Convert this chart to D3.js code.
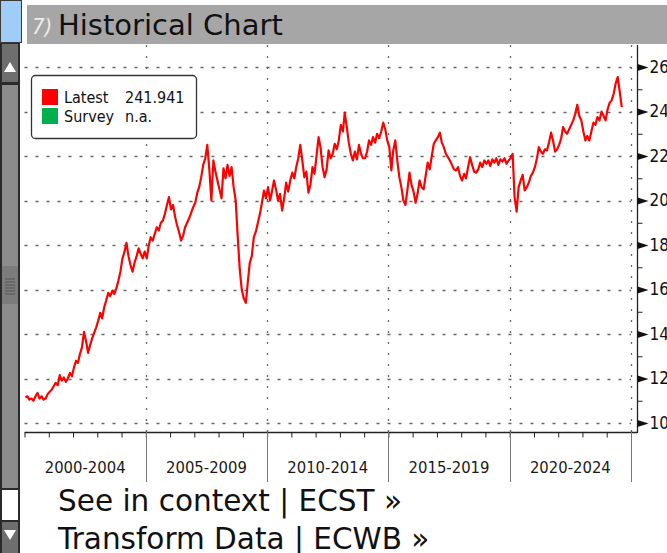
<!DOCTYPE html>
<html>
<head>
<meta charset="utf-8">
<script src="https://cdn.jsdelivr.net/npm/d3@7"></script>
<style>
body { margin: 0; background: #fff; overflow: hidden; }
svg { display: block; }
text { font-family: "DejaVu Sans Condensed", "DejaVu Sans", sans-serif; }
</style>
</head>
<body>
<div id="vis"></div>
<script>
const FRAME_WIDTH = 667;
const FRAME_HEIGHT = 553;

// monthly values, Jan 2000 .. Aug 2024
const values = [
  111.5, 112, 110.5, 111, 110, 112, 113.5, 111, 112, 110.5, 111, 113,      // 2000
  114, 115, 116.5, 118, 117, 121.5, 119, 120.5, 118.5, 120, 122.5, 121,    // 2001
  125, 128, 127, 131, 134, 141, 137, 131.5, 135, 138, 140.5, 143,          // 2002
  146, 149.5, 147, 152, 155, 158.5, 157, 159.5, 158, 160.5, 164, 168,      // 2003
  174, 177, 181, 175, 171, 168, 172, 175, 178.5, 176, 174, 177,            // 2004
  174, 180, 183.5, 182, 185, 188, 186.5, 190, 191, 194, 198, 201.5,        // 2005
  196, 198, 193, 189, 186, 182, 184, 188, 190, 192, 194.5, 197,            // 2006
  199, 203.5, 206, 210.5, 216, 219, 225, 214, 200, 218, 213, 209,          // 2007
  205, 201, 214.5, 210, 216, 211, 215, 206, 200, 184, 169, 160,            // 2008
  156, 154, 163, 172, 175, 183.5, 186, 190, 194, 199, 204.5, 201,          // 2009
  206, 200, 204, 209, 205, 200, 203, 195.5, 201, 208, 204, 209,            // 2010
  212.5, 210, 215, 219, 225, 218, 210.5, 213, 203.5, 207, 215, 212,        // 2011
  220, 228.5, 224, 215, 210.5, 214, 222.5, 219, 221, 225.5, 223, 227,      // 2012
  234, 231, 239.5, 233, 226, 221, 218, 222, 218.5, 225, 221, 219,          // 2013
  219, 222, 227, 225, 228.5, 226, 230, 228, 231, 235, 232, 227,            // 2014
  224, 213.5, 222.5, 227, 218, 210.5, 206, 200, 198, 205, 212.5, 207,      // 2015
  204, 199, 203, 209, 206, 205, 211, 217, 214, 220, 225.5, 227,            // 2016
  228.5, 230.5, 226, 224, 221, 219.5, 218, 216, 214, 213.5, 215, 211,      // 2017
  209, 212, 210, 215, 219.5, 216, 213, 212.5, 214, 217, 215, 218,          // 2018
  216.5, 218, 215.5, 218.5, 217, 219, 216, 218.5, 217.5, 219, 216.5, 218,  // 2019
  219, 221, 201.5, 195, 206, 209, 211.5, 204.5, 206, 208, 211, 212.5,      // 2020
  215, 219, 224, 222, 221, 223, 222.5, 226, 230.5, 227, 222, 223,          // 2021
  225, 228, 233, 231, 230, 232, 234, 236, 239, 243, 238, 236,              // 2022
  231, 227, 229, 227, 231, 235, 234, 237.5, 236, 240, 238, 236,            // 2023
  241, 244, 245, 248, 252.5, 255.5, 249, 241.941                           // 2024
];

const periods = ["2000-2004", "2005-2009", "2010-2014", "2015-2019", "2020-2024"];
const periodYears = [2000, 2005, 2010, 2015, 2020, 2025];
const yTicks = [100, 120, 140, 160, 180, 200, 220, 240, 260];
const yMinor = [110, 130, 150, 170, 190, 210, 230, 250];

const legendNames = ["Latest", "Survey"];
const legendValues = ["241.941", "n.a."];
const legendColors = ["#ff0000", "#00b04f"];

const links = ["See in context | ECST \u00bb", "Transform Data | ECWB \u00bb"];

const PLOT = { left: 24.5, right: 631, top: 45, bottom: 432, axisX: 637 };

const data = values.map((v, i) => ({ date: new Date(2000, i, 15), value: v }));

const svg = d3.select("#vis")
  .append("svg")
  .attr("width", FRAME_WIDTH)
  .attr("height", FRAME_HEIGHT);

// scales
const X_SCALE = d3.scaleTime()
  .domain([new Date(2000, 0, 1), new Date(2025, 0, 1)])
  .range([PLOT.left, PLOT.right]);

const Y_SCALE = d3.scaleLinear()
  .domain([100, 260])
  .range([423, 67]);

// header
svg.append("rect").attr("x", 0.5).attr("y", 0.5).attr("width", 21).attr("height", 42)
  .attr("fill", "#9fcdf8").attr("stroke", "#3a3a3a");
svg.append("rect").attr("x", 27).attr("y", 5).attr("width", FRAME_WIDTH - 27).attr("height", 39)
  .attr("fill", "#a6a6a6");
svg.append("text").attr("x", 32).attr("y", 34)
  .attr("font-size", 22).attr("font-style", "italic").attr("fill", "#ececec")
  .text("7)");
svg.append("text").attr("x", 58).attr("y", 35)
  .attr("font-size", 29).attr("fill", "#111")
  .style("font-family", "'DejaVu Sans', sans-serif")
  .text("Historical Chart");

// left scrollbar
const sb = svg.append("g");
sb.append("rect").attr("x", 0).attr("y", 43).attr("width", 20).attr("height", FRAME_HEIGHT - 43).attr("fill", "#2a2a2a");
sb.append("rect").attr("x", 2).attr("y", 44).attr("width", 16).attr("height", 38).attr("fill", "#6e6e6e");
sb.append("path").attr("d", "M4,72 L10,62 L16,72 Z").attr("fill", "#fff");
sb.append("rect").attr("x", 2).attr("y", 85).attr("width", 16).attr("height", 403).attr("fill", "#8c8c8c");
sb.append("rect").attr("x", 2).attr("y", 266).attr("width", 16).attr("height", 38).attr("fill", "#7c7c7c");
[279, 282, 285, 288, 291, 294].forEach(yy => {
  sb.append("line").attr("x1", 5).attr("x2", 15).attr("y1", yy).attr("y2", yy).attr("stroke", "#555");
});
sb.append("rect").attr("x", 2).attr("y", 490).attr("width", 16).attr("height", 30).attr("fill", "#fff");
sb.append("rect").attr("x", 2).attr("y", 522).attr("width", 16).attr("height", 31).attr("fill", "#6e6e6e");
sb.append("path").attr("d", "M4,530 L10,540 L16,530 Z").attr("fill", "#fff");

// gridlines
svg.append("g")
  .selectAll("line")
  .data(yTicks)
  .enter()
  .append("line")
  .attr("x1", PLOT.left)
  .attr("x2", PLOT.right)
  .attr("y1", d => Math.round(Y_SCALE(d)) + 0.5)
  .attr("y2", d => Math.round(Y_SCALE(d)) + 0.5)
  .attr("stroke", "#666")
  .attr("stroke-width", 1.3)
  .attr("stroke-dasharray", "3,8");

svg.append("g")
  .selectAll("line")
  .data(periodYears.slice(1))
  .enter()
  .append("line")
  .attr("x1", d => Math.round(X_SCALE(new Date(d, 0, 1))) + 0.5)
  .attr("x2", d => Math.round(X_SCALE(new Date(d, 0, 1))) + 0.5)
  .attr("y1", PLOT.top)
  .attr("y2", PLOT.bottom)
  .attr("stroke", "#666")
  .attr("stroke-width", 1.3)
  .attr("stroke-dasharray", "2,9");

// the series
const line = d3.line()
  .x(d => X_SCALE(d.date))
  .y(d => Y_SCALE(d.value));

svg.append("path")
  .datum(data)
  .attr("d", line)
  .attr("fill", "none")
  .attr("stroke", "#ff0000")
  .attr("stroke-width", 2.2)
  .attr("stroke-linejoin", "round");

// bottom axis
svg.append("line")
  .attr("x1", PLOT.left).attr("x2", PLOT.axisX)
  .attr("y1", PLOT.bottom + 0.5).attr("y2", PLOT.bottom + 0.5)
  .attr("stroke", "#222").attr("stroke-width", 1.3);

const xAxis = svg.append("g")
  .attr("transform", "translate(0," + (PLOT.bottom + 0.5) + ")")
  .call(d3.axisBottom(X_SCALE).ticks(d3.timeYear.every(1)).tickSize(5).tickFormat(""));
xAxis.select(".domain").remove();
xAxis.selectAll(".tick line").attr("stroke", "#222");

svg.append("g")
  .selectAll("line")
  .data(periodYears.slice(1))
  .enter()
  .append("line")
  .attr("x1", d => Math.round(X_SCALE(new Date(d, 0, 1))) + 0.5)
  .attr("x2", d => Math.round(X_SCALE(new Date(d, 0, 1))) + 0.5)
  .attr("y1", PLOT.bottom)
  .attr("y2", 482)
  .attr("stroke", "#777");

svg.append("g")
  .selectAll("text")
  .data(periods)
  .enter()
  .append("text")
  .attr("x", (d, i) => (X_SCALE(new Date(periodYears[i], 0, 1)) + X_SCALE(new Date(periodYears[i + 1], 0, 1))) / 2)
  .attr("y", 473)
  .attr("text-anchor", "middle")
  .attr("font-size", 16.5)
  .attr("fill", "#1a1a1a")
  .text(d => d);

// right axis (labels run off the right edge, as in the original window)
svg.append("line")
  .attr("x1", PLOT.axisX + 0.5).attr("x2", PLOT.axisX + 0.5)
  .attr("y1", PLOT.top).attr("y2", PLOT.bottom + 1)
  .attr("stroke", "#222").attr("stroke-width", 1.3);

const yMinorAxis = svg.append("g")
  .attr("transform", "translate(" + (PLOT.axisX + 0.5) + ",0)")
  .call(d3.axisRight(Y_SCALE).tickValues(yMinor).tickSize(5).tickFormat(""));
yMinorAxis.select(".domain").remove();
yMinorAxis.selectAll(".tick line").attr("stroke", "#222");

const yAxis = svg.append("g")
  .attr("transform", "translate(" + (PLOT.axisX + 0.5) + ",0)")
  .call(d3.axisRight(Y_SCALE).tickValues(yTicks).tickSize(0).tickPadding(12));
yAxis.select(".domain").remove();
yAxis.selectAll(".tick text")
  .attr("font-size", 17)
  .attr("fill", "#111")
  .style("font-family", "'DejaVu Sans Condensed', 'DejaVu Sans', sans-serif");
yAxis.selectAll(".tick")
  .append("path")
  .attr("d", "M0,-3.5 L11,0 L0,3.5 Z")
  .attr("fill", "#111");

// legend
const legend = svg.append("g");
legend.append("rect")
  .attr("x", 31.5).attr("y", 75.5).attr("width", 165).attr("height", 63).attr("rx", 4)
  .attr("fill", "#fff").attr("stroke", "#333").attr("stroke-width", 1.3);
legend.selectAll(".sw")
  .data(legendNames)
  .enter()
  .append("rect")
  .attr("x", 42).attr("y", (d, i) => 89 + i * 19)
  .attr("width", 16).attr("height", 16)
  .attr("fill", (d, i) => legendColors[i]);
legend.selectAll(".ln")
  .data(legendNames)
  .enter()
  .append("text")
  .attr("x", 64).attr("y", (d, i) => 103 + i * 19)
  .attr("font-size", 16).attr("fill", "#111")
  .text(d => d);
legend.selectAll(".lv")
  .data(legendValues)
  .enter()
  .append("text")
  .attr("x", 125).attr("y", (d, i) => 103 + i * 19)
  .attr("font-size", 16).attr("fill", "#111")
  .text(d => d);

// footer links
svg.selectAll(".link")
  .data(links)
  .enter()
  .append("text")
  .attr("x", 58).attr("y", (d, i) => 511 + i * 38)
  .attr("font-size", 29.5).attr("fill", "#111")
  .style("font-family", "'DejaVu Sans', sans-serif")
  .text(d => d);
</script>
</body>
</html>
